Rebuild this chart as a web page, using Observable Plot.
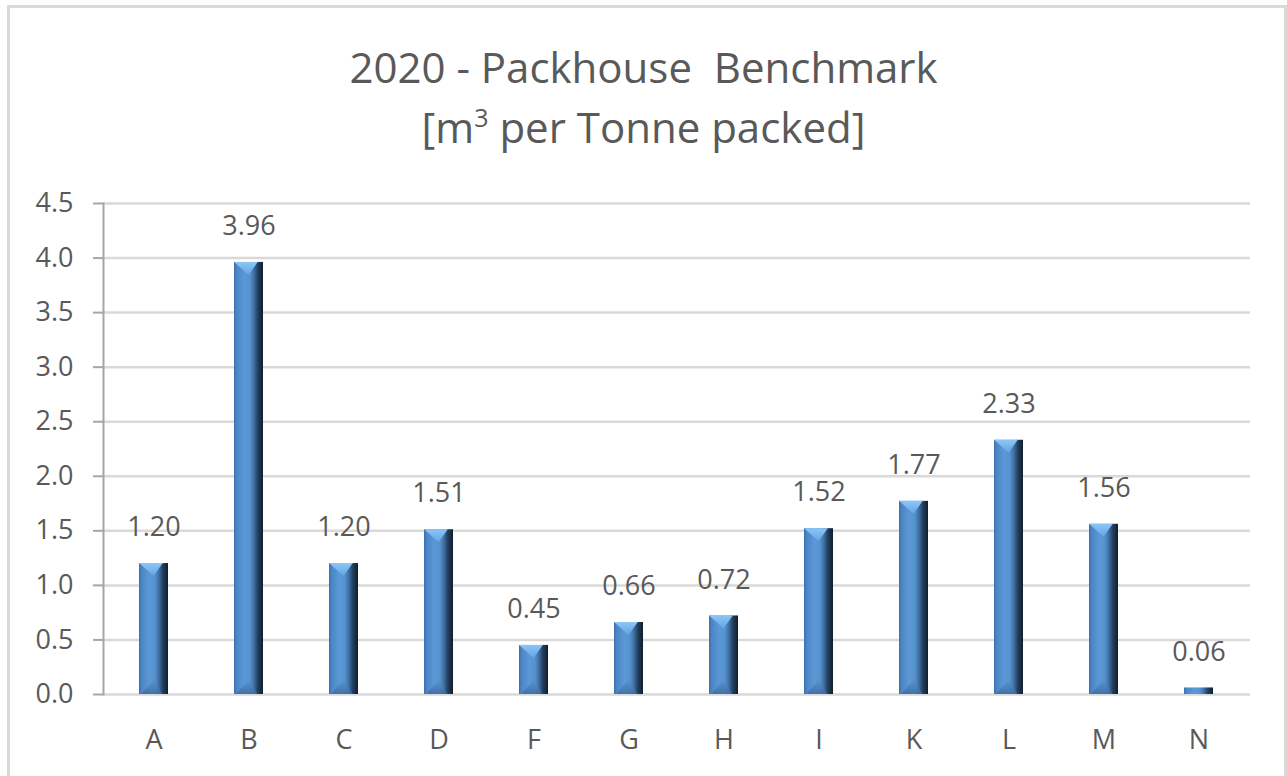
<!DOCTYPE html>
<html>
<head>
<meta charset="utf-8">
<script src="https://cdn.jsdelivr.net/npm/d3@7"></script>
<script src="https://cdn.jsdelivr.net/npm/@observablehq/plot@0.6"></script>
<style>
  html, body { margin: 0; padding: 0; background: #fff; }
  body { width: 1287px; height: 776px; overflow: hidden; position: relative; font-family: "Open Sans", sans-serif; }
  #frame { position: absolute; left: 7px; top: 5px; width: 1280px; height: 820px; border: 3px solid #d9d9d9; box-sizing: border-box; }
  #title { position: absolute; left: 0; top: 37px; width: 1287px; text-align: center; color: #595959; font-size: 42px; line-height: 60px; }
  #title .sup { font-size: 25px; position: relative; top: -16px; }
  #chart { position: absolute; left: 0; top: 170px; }
</style>
</head>
<body>
<div id="frame"></div>
<div id="title">
  <div>2020 - Packhouse&nbsp; Benchmark</div>
  <div>[m<span class="sup">3</span> per Tonne packed]</div>
</div>
<div id="chart"></div>
<script>
const categories = ["A", "B", "C", "D", "F", "G", "H", "I", "K", "L", "M", "N"];
const values = [1.20, 3.96, 1.20, 1.51, 0.45, 0.66, 0.72, 1.52, 1.77, 2.33, 1.56, 0.06];
const yTicks = [0, 0.5, 1.0, 1.5, 2.0, 2.5, 3.0, 3.5, 4.0, 4.5];

const data = categories.map((c, i) => ({cat: c, value: values[i]}));

const plot = Plot.plot({
  width: 1287,
  height: 606,
  marginTop: 33,
  marginBottom: 82,
  marginLeft: 103,
  marginRight: 37,
  style: {fontFamily: "Open Sans, sans-serif", fontSize: "27px", color: "#595959", background: "transparent", overflow: "visible"},
  x: {domain: categories, paddingInner: 0.69, paddingOuter: 0.345, label: null},
  y: {domain: [0, 4.5], label: null},
  marks: [
    Plot.gridY(yTicks, {stroke: "#d9d9d9", strokeWidth: 2.5, strokeOpacity: 1}),
    Plot.frame({anchor: "left", stroke: "#a6a6a6", strokeWidth: 2}),
    Plot.axisY(yTicks, {tickSize: 10, tickPadding: 20, tickFormat: d => d.toFixed(1), stroke: "#a6a6a6", strokeWidth: 2, fill: "#595959", label: null}),
    Plot.axisX({tickSize: 0, tickPadding: 35, fill: "#595959", label: null}),
    Plot.barY(data, {x: "cat", y: "value", fill: "url(#barGrad)"}),
    Plot.text(data, {x: "cat", y: "value", text: d => d.value.toFixed(2), dy: -36, fill: "#595959", fontSize: 27})
  ]
});
document.getElementById("chart").appendChild(plot);

// bevel decoration derived from the rendered bars
const svg = d3.select(plot);
const defs = svg.insert("defs", ":first-child");
const g = defs.append("linearGradient").attr("id", "barGrad").attr("x1", 0).attr("x2", 1).attr("y1", 0).attr("y2", 0);
[[0, "#3a6ea9"], [0.08, "#4a84c4"], [0.35, "#5b98d6"], [0.55, "#5592d0"], [0.7, "#3d6a9c"], [0.82, "#22405f"], [1, "#111d2c"]]
  .forEach(([o, c]) => g.append("stop").attr("offset", o).attr("stop-color", c));
const gt = defs.append("linearGradient").attr("id", "topGrad").attr("x1", 0).attr("x2", 0).attr("y1", 0).attr("y2", 1);
[[0, "#8cc6f6"], [1, "#62a4e2"]].forEach(([o, c]) => gt.append("stop").attr("offset", o).attr("stop-color", c));
const gb = defs.append("linearGradient").attr("id", "botGrad").attr("x1", 0).attr("x2", 0).attr("y1", 0).attr("y2", 1);
[[0, "#5a94cf"], [1, "#3c6a9e"]].forEach(([o, c]) => gb.append("stop").attr("offset", o).attr("stop-color", c));

svg.selectAll('g[aria-label="bar"] rect').each(function() {
  const r = d3.select(this);
  const x = +r.attr("x"), y = +r.attr("y"), w = +r.attr("width"), h = +r.attr("height");
  const parent = d3.select(this.parentNode);
  const d = Math.min(13, h * 0.45);
  if (h > 8) {
    parent.append("polygon")
      .attr("points", `${x},${y} ${x + w * 0.82},${y} ${x + w / 2},${y + d}`)
      .attr("fill", "url(#topGrad)");
    parent.append("polygon")
      .attr("points", `${x + w * 0.08},${y + h} ${x + w / 2},${y + h - d * 1.1} ${x + w * 0.8},${y + h}`)
      .attr("fill", "url(#botGrad)").attr("opacity", 0.8);
  }
});
</script>
</body>
</html>
